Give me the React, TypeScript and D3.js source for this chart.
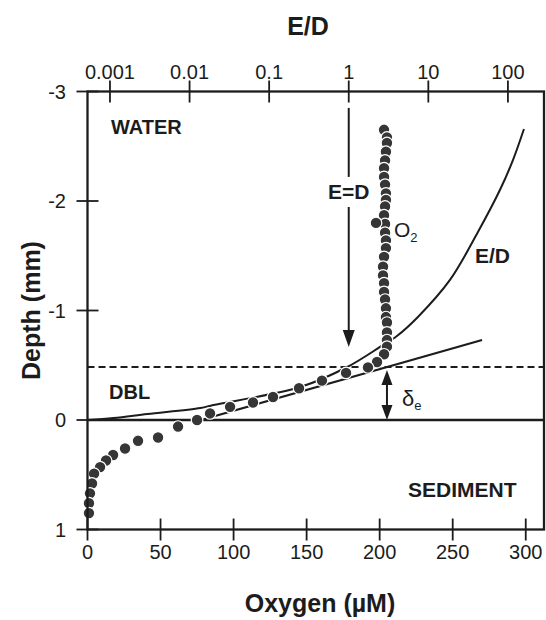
import React from "react";
import * as d3 from "d3";

// ---------- data ----------
// O2 profile: depth (mm) and oxygen concentration (µM)
const o2Depth = [
  -2.65, -2.58, -2.53, -2.45, -2.37, -2.30, -2.22, -2.15, -2.07, -2.01, -1.95,
  -1.87, -1.79, -1.71, -1.64, -1.57, -1.49, -1.40, -1.32, -1.25, -1.17, -1.10,
  -1.02, -0.94, -0.89, -0.80, -0.73, -0.67, -0.60, -0.53, -0.48, -0.43, -0.36,
  -0.29, -0.21, -0.16, -0.12, -0.06, 0.0, 0.06, 0.16, 0.19, 0.26, 0.32, 0.37,
  0.43, 0.49, 0.58, 0.67, 0.76, 0.85, -1.8,
];
const o2Conc = [
  203.0, 205.0, 205.0, 204.3, 203.7, 203.0, 203.0, 203.7, 204.3, 204.3, 203.7,
  203.0, 203.7, 203.7, 204.3, 204.3, 203.0, 202.3, 202.3, 203.0, 203.0, 203.7,
  204.3, 204.3, 205.0, 205.0, 205.0, 205.0, 203.0, 198.2, 192.0, 177.0, 160.5,
  144.8, 127.0, 113.3, 97.6, 83.9, 75.0, 62.0, 48.3, 34.6, 25.7, 17.5, 12.7,
  8.6, 4.5, 3.1, 1.7, 1.0, 1.0, 197.5,
];

// E/D curve: depth (mm) and E/D ratio (top log axis)
const edDepth = [0, -0.018, -0.055, -0.11, -0.137, -0.301, -0.484, -0.667, -0.767, -0.941, -1.279, -1.717, -2.1, -2.374, -2.658];
const edRatio = [0.000522, 0.00111, 0.00295, 0.0137, 0.0199, 0.246, 0.957, 2.47, 4.03, 7.4, 18.7, 42.0, 79.3, 115.6, 159];

// linear DBL gradient (tangent line)
const tangentConc = [77.7, 270.1];
const tangentDepth = [0, -0.731];

// reference depths
const dblDepth = -0.484; // effective DBL top (dashed)
const surfaceDepth = 0;

// tick labels
const oxygenTicks = [0, 50, 100, 150, 200, 250, 300];
const depthTicks = [-3, -2, -1, 0, 1];
const edTicks = [0.001, 0.01, 0.1, 1, 10, 100];
const edTickLabels = ["0.001", "0.01", "0.1", "1", "10", "100"];

// annotation anchors (data units)
const eqArrowRatio = 1;
const eqArrowDepths = [-2.85, -2.22, -1.945, -0.667]; // line top, gap start, gap end, tip
const deltaArrowConc = 205;
const deltaArrowDepths = [-0.457, 0];

const FONT = "'Liberation Sans', Arial, Helvetica, sans-serif";
const INK = "#1c1c1c";

export default function App() {
  const W = 546;
  const H = 620;
  const x = d3.scaleLinear().domain([0, 312.5]).range([87.5, 544]);
  const y = d3.scaleLinear().domain([-3, 1]).range([91.5, 529.5]);
  const xt = d3.scaleLog().domain([0.000522, 284]).range([87.5, 544]);

  const L = x.range()[0];
  const R = x.range()[1];
  const T = y.range()[0];
  const B = y.range()[1];
  const tk = 11;

  const edPts: [number, number][] = edDepth.map((d, i) => [xt(edRatio[i]), y(d)]);
  const edPath = d3.line<[number, number]>().x((p) => p[0]).y((p) => p[1]).curve(d3.curveCatmullRom.alpha(0.5))(edPts) || "";

  const tanPath = d3.line<number>().x((_, i) => x(tangentConc[i])).y((d) => y(d))(tangentDepth) || "";

  // E=D arrow
  const ax = xt(eqArrowRatio);
  const [a0, a1, a2, a3] = eqArrowDepths.map((d) => y(d));
  const headL = 17;
  const headW = 6;
  const eqHead = `M${ax},${a3} L${ax - headW},${a3 - headL} L${ax + headW},${a3 - headL} Z`;

  // delta arrow
  const dx = x(deltaArrowConc);
  const dTop = y(deltaArrowDepths[0]);
  const dBot = y(deltaArrowDepths[1]);
  const dHL = 15;
  const dHW = 5.5;
  const upHead = `M${dx},${dTop} L${dx - dHW},${dTop + dHL} L${dx + dHW},${dTop + dHL} Z`;
  const downHead = `M${dx},${dBot} L${dx - dHW},${dBot - dHL} L${dx + dHW},${dBot - dHL} Z`;

  return (
    <svg
      width={W}
      height={H}
      viewBox={`0 0 ${W} ${H}`}
      style={{ position: "absolute", left: 0, top: 0, background: "#fff" }}
      fontFamily={FONT}
    >
      <rect x={0} y={0} width={W} height={H} fill="#fff" />

      {/* dashed DBL line */}
      <line x1={L} x2={R} y1={y(dblDepth)} y2={y(dblDepth)} stroke={INK} strokeWidth={2} strokeDasharray="7,4" />
      {/* sediment surface */}
      <line x1={L} x2={R} y1={y(surfaceDepth)} y2={y(surfaceDepth)} stroke={INK} strokeWidth={2.3} />

      {/* E/D curve and tangent */}
      <path d={edPath} fill="none" stroke={INK} strokeWidth={2} />
      <path d={tanPath} fill="none" stroke={INK} strokeWidth={2} />

      {/* E=D arrow */}
      <line x1={ax} x2={ax} y1={a0} y2={a1} stroke={INK} strokeWidth={2} />
      <line x1={ax} x2={ax} y1={a2} y2={a3 - headL + 1} stroke={INK} strokeWidth={2} />
      <path d={eqHead} fill={INK} />
      <text x={ax} y={(a1 + a2) / 2 + 7.5} textAnchor="middle" fontSize={21} fontWeight="bold" fill={INK}>
        E=D
      </text>

      {/* delta arrow */}
      <line x1={dx} x2={dx} y1={dTop + dHL - 1} y2={dBot - dHL + 1} stroke={INK} strokeWidth={2} />
      <path d={upHead} fill={INK} />
      <path d={downHead} fill={INK} />

      {/* O2 dots */}
      {o2Depth.map((d, i) => (
        <circle key={i} cx={x(o2Conc[i])} cy={y(d)} r={5.8} fill="#363636" stroke="#fff" strokeWidth={1.2} />
      ))}

      {/* frame */}
      <rect x={L} y={T} width={R - L} height={B - T} fill="none" stroke={INK} strokeWidth={2.3} />

      {/* left ticks */}
      {depthTicks.map((t) => (
        <g key={"l" + t}>
          <line x1={L - tk} x2={L + tk} y1={y(t)} y2={y(t)} stroke={INK} strokeWidth={1.8} />
          <text x={66} y={y(t) + 7} textAnchor="end" fontSize={20} fill={INK}>
            {t}
          </text>
        </g>
      ))}
      {/* bottom ticks */}
      {oxygenTicks.map((t) => (
        <g key={"b" + t}>
          <line x1={x(t)} x2={x(t)} y1={B - tk} y2={B + tk} stroke={INK} strokeWidth={1.8} />
          <text x={x(t)} y={559} textAnchor="middle" fontSize={20} fill={INK}>
            {t}
          </text>
        </g>
      ))}
      {/* top ticks */}
      {edTicks.map((t, i) => (
        <g key={"t" + t}>
          <line x1={xt(t)} x2={xt(t)} y1={T - tk} y2={T + tk} stroke={INK} strokeWidth={1.8} />
          <text x={xt(t)} y={79} textAnchor="middle" fontSize={20} fill={INK}>
            {edTickLabels[i]}
          </text>
        </g>
      ))}

      {/* axis titles */}
      <text x={308} y={35} textAnchor="middle" fontSize={25} fontWeight="bold" fill={INK}>
        E/D
      </text>
      <text x={320} y={612} textAnchor="middle" fontSize={25} fontWeight="bold" fill={INK}>
        Oxygen (µM)
      </text>
      <text
        transform={`translate(40,${(T + B) / 2}) rotate(-90)`}
        textAnchor="middle"
        fontSize={25}
        fontWeight="bold"
        fill={INK}
      >
        Depth (mm)
      </text>

      {/* region labels */}
      <text x={111} y={134} fontSize={20} fontWeight="bold" fill={INK}>WATER</text>
      <text x={109} y={399} fontSize={20} fontWeight="bold" fill={INK}>DBL</text>
      <text x={408} y={497} fontSize={21} fontWeight="bold" fill={INK}>SEDIMENT</text>

      {/* O2 label */}
      <text x={394} y={237} fontSize={21} fill={INK}>
        O
        <tspan fontSize={13} dy={5}>2</tspan>
      </text>
      {/* E/D curve label */}
      <text x={475} y={263} fontSize={21} fontWeight="bold" fill={INK}>E/D</text>
      {/* delta e label */}
      <text x={402} y={406} fontSize={22} fill={INK}>
        δ
        <tspan fontSize={13} dy={4}>e</tspan>
      </text>
    </svg>
  );
}
